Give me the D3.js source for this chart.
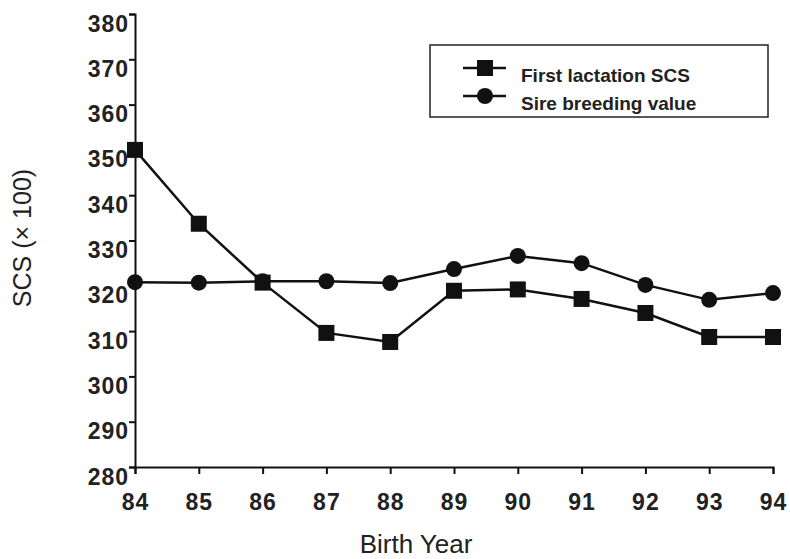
<!DOCTYPE html>
<meta charset="utf-8">
<style>
  body { margin: 0; background: #fff; }
  svg { display: block; font-family: "Liberation Sans", Arial, sans-serif; }
  .axis path, .axis line { stroke: #111; stroke-width: 2; }
  .axis text { font-size: 23px; font-weight: bold; fill: #222; letter-spacing: 1px; }
</style>
<body>
<div id="chart"></div>
<script src="https://d3js.org/d3.v7.min.js"></script>
<script>
  // Birth years (x) and the two series
  const years = [84, 85, 86, 87, 88, 89, 90, 91, 92, 93, 94];
  const firstLactation = [350, 333.7, 320.7, 309.6, 307.6, 318.9, 319.2, 317.1, 314, 308.7, 308.7];
  const sireBreeding = [320.8, 320.7, 321, 321, 320.6, 323.7, 326.6, 325, 320.2, 316.9, 318.4];
  const yTicks = [280, 290, 300, 310, 320, 330, 340, 350, 360, 370, 380];
  const seriesNames = ["First lactation SCS", "Sire breeding value"];

  const width = 790, height = 559;
  const margin = { top: 14, right: 17, bottom: 92, left: 135 };

  const svg = d3.select("#chart").append("svg")
    .attr("width", width)
    .attr("height", height);

  const x = d3.scaleLinear().domain([84, 94]).range([margin.left, width - margin.right]);
  const y = d3.scaleLinear().domain([280, 380]).range([height - margin.bottom, margin.top]);

  // axes
  svg.append("g")
    .attr("class", "axis")
    .attr("transform", `translate(0,${height - margin.bottom})`)
    .call(d3.axisBottom(x).tickValues(years).tickSize(7).tickSizeOuter(7))
    .selectAll("text").attr("y", 43).attr("dy", 0);

  svg.append("g")
    .attr("class", "axis")
    .attr("transform", `translate(${margin.left},0)`)
    .call(d3.axisLeft(y).tickValues(yTicks).tickSize(6).tickSizeOuter(6).tickPadding(0))
    .selectAll("text").attr("dy", 17);

  // axis titles
  svg.append("text")
    .attr("x", 416)
    .attr("y", 553)
    .attr("text-anchor", "middle")
    .style("font-size", "26px")
    .style("fill", "#222")
    .text("Birth Year");

  svg.append("text")
    .attr("transform", `translate(31,238) rotate(-90)`)
    .attr("text-anchor", "middle")
    .style("font-size", "25px")
    .style("fill", "#222")
    .text("SCS (× 100)");

  const line = d3.line().x((d, i) => x(years[i])).y(d => y(d));

  // series 1: squares
  svg.append("path")
    .datum(firstLactation)
    .attr("fill", "none")
    .attr("stroke", "#111")
    .attr("stroke-width", 2.5)
    .attr("d", line);

  svg.selectAll(".sq")
    .data(firstLactation)
    .join("rect")
    .attr("class", "sq")
    .attr("x", (d, i) => x(years[i]) - 8)
    .attr("y", d => y(d) - 8)
    .attr("width", 16)
    .attr("height", 16)
    .attr("fill", "#111");

  // series 2: circles
  svg.append("path")
    .datum(sireBreeding)
    .attr("fill", "none")
    .attr("stroke", "#111")
    .attr("stroke-width", 2.5)
    .attr("d", line);

  svg.selectAll(".dot")
    .data(sireBreeding)
    .join("circle")
    .attr("class", "dot")
    .attr("cx", (d, i) => x(years[i]))
    .attr("cy", d => y(d))
    .attr("r", 8)
    .attr("fill", "#111");

  // legend
  const legend = svg.append("g");
  legend.append("rect")
    .attr("x", 430).attr("y", 45)
    .attr("width", 338).attr("height", 72)
    .attr("fill", "none")
    .attr("stroke", "#222")
    .attr("stroke-width", 1.5);

  seriesNames.forEach((name, i) => {
    const cy = 68 + i * 28;
    legend.append("line")
      .attr("x1", 463).attr("x2", 506)
      .attr("y1", cy).attr("y2", cy)
      .attr("stroke", "#111").attr("stroke-width", 2.5);
    if (i === 0) {
      legend.append("rect")
        .attr("x", 477).attr("y", cy - 8)
        .attr("width", 16).attr("height", 16)
        .attr("fill", "#111");
    } else {
      legend.append("circle")
        .attr("cx", 485).attr("cy", cy)
        .attr("r", 8).attr("fill", "#111");
    }
    legend.append("text")
      .attr("x", 521)
      .attr("y", cy + 14)
      .style("font-size", "19px")
      .style("font-weight", "bold")
      .style("fill", "#222")
      .text(name);
  });
</script>
</body>
</html>
